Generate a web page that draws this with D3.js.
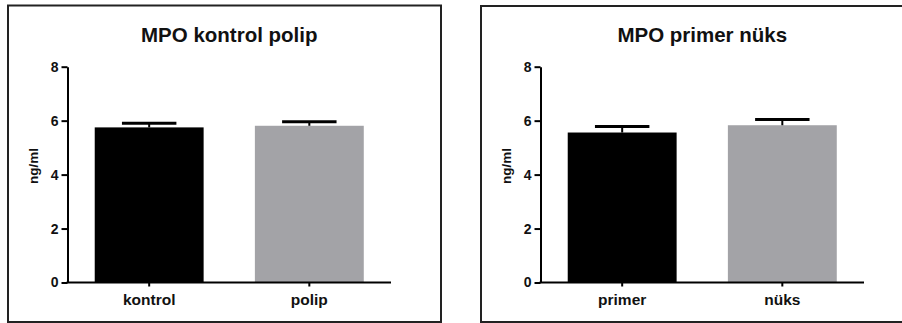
<!DOCTYPE html>
<html>
<head>
<meta charset="utf-8">
<script src="https://d3js.org/d3.v7.min.js"></script>
<style>
    body { margin: 0; background: #fff; }
    svg { display: block; font-family: "Liberation Sans", Arial, sans-serif; }
</style>
</head>
<body>
<script>
    // chart data
    var titles = ["MPO kontrol polip", "MPO primer nüks"];
    var categoriesA = ["kontrol", "polip"];
    var meansA = [5.75, 5.81];
    var errorsA = [0.15, 0.15];
    var categoriesB = ["primer", "nüks"];
    var meansB = [5.56, 5.83];
    var errorsB = [0.22, 0.21];
    var yTicks = [0, 2, 4, 6, 8];
    var yLabel = "ng/ml";

    var barColors = ["#000000", "#a3a3a7"];

    var svg = d3.select("body").append("svg")
        .attr("width", 902)
        .attr("height", 323);

    var panels = [
        {title: titles[0], cats: categoriesA, means: meansA, errs: errorsA,
         frame: [8, 5.5, 433, 316.5], x0: 67.5, x1: 391},
        {title: titles[1], cats: categoriesB, means: meansB, errs: errorsB,
         frame: [481, 6, 440, 316], x0: 540.5, x1: 864}
    ];

    var y = d3.scaleLinear().domain([0, 8]).range([282.5, 66.7]);

    panels.forEach(function(p) {
        var g = svg.append("g");

        // frame
        g.append("rect")
            .attr("x", p.frame[0]).attr("y", p.frame[1])
            .attr("width", p.frame[2]).attr("height", p.frame[3])
            .attr("fill", "none")
            .attr("stroke", "#222")
            .attr("stroke-width", 2);

        var x = d3.scaleBand()
            .domain(p.cats)
            .range([p.x0, p.x1])
            .paddingInner(0.32)
            .paddingOuter(0.17);

        var rows = p.cats.map(function(c, i) {
            return {cat: c, mean: p.means[i], err: p.errs[i], color: barColors[i]};
        });

        // bars
        g.selectAll(".bar")
            .data(rows)
            .enter().append("rect")
            .attr("class", "bar")
            .attr("x", function(d) { return x(d.cat); })
            .attr("y", function(d) { return y(d.mean); })
            .attr("width", x.bandwidth())
            .attr("height", function(d) { return y(0) - y(d.mean); })
            .attr("fill", function(d) { return d.color; });

        // error bars (upper only)
        var eb = g.selectAll(".err")
            .data(rows)
            .enter().append("g")
            .attr("class", "err");
        eb.append("line")
            .attr("x1", function(d) { return x(d.cat) + x.bandwidth() / 2; })
            .attr("x2", function(d) { return x(d.cat) + x.bandwidth() / 2; })
            .attr("y1", function(d) { return y(d.mean); })
            .attr("y2", function(d) { return y(d.mean + d.err); })
            .attr("stroke", "#000")
            .attr("stroke-width", 2);
        eb.append("line")
            .attr("x1", function(d) { return x(d.cat) + x.bandwidth() / 4; })
            .attr("x2", function(d) { return x(d.cat) + x.bandwidth() * 3 / 4; })
            .attr("y1", function(d) { return y(d.mean + d.err); })
            .attr("y2", function(d) { return y(d.mean + d.err); })
            .attr("stroke", "#000")
            .attr("stroke-width", 3);

        // y axis
        var yAxis = g.append("g")
            .attr("transform", "translate(" + p.x0 + ",0)")
            .call(d3.axisLeft(y).tickValues(yTicks).tickSize(6).tickPadding(3).tickSizeOuter(0));
        yAxis.select(".domain").attr("stroke", "#000").attr("stroke-width", 2);
        yAxis.selectAll(".tick line").attr("stroke", "#000").attr("stroke-width", 2);
        yAxis.selectAll(".tick text")
            .attr("font-size", 14).attr("font-weight", "bold")
            .attr("fill", "#111")
            .attr("font-family", "Liberation Sans, Arial, sans-serif");

        // x axis
        var xAxis = g.append("g")
            .attr("transform", "translate(0," + y(0) + ")")
            .call(d3.axisBottom(x).tickSize(4).tickPadding(7).tickSizeOuter(0));
        xAxis.select(".domain").attr("stroke", "#000").attr("stroke-width", 2)
            .attr("d", "M" + (p.x0 - 1) + ",0H" + p.x1);
        xAxis.selectAll(".tick line").attr("stroke", "#000").attr("stroke-width", 2);
        xAxis.selectAll(".tick text")
            .attr("font-size", 15.5).attr("font-weight", "bold")
            .attr("fill", "#111")
            .attr("font-family", "Liberation Sans, Arial, sans-serif");

        // title
        g.append("text")
            .attr("x", (p.x0 + p.x1) / 2)
            .attr("y", 42)
            .attr("text-anchor", "middle")
            .attr("font-size", 20.5)
            .attr("font-weight", "bold")
            .attr("fill", "#111")
            .text(p.title);

        // y label
        g.append("text")
            .attr("transform", "translate(" + (p.x0 - 30) + "," + 166 + ") rotate(-90)")
            .attr("text-anchor", "middle")
            .attr("font-size", 13.5)
            .attr("font-weight", "bold")
            .attr("fill", "#111")
            .text(yLabel);
    });
</script>
</body>
</html>
